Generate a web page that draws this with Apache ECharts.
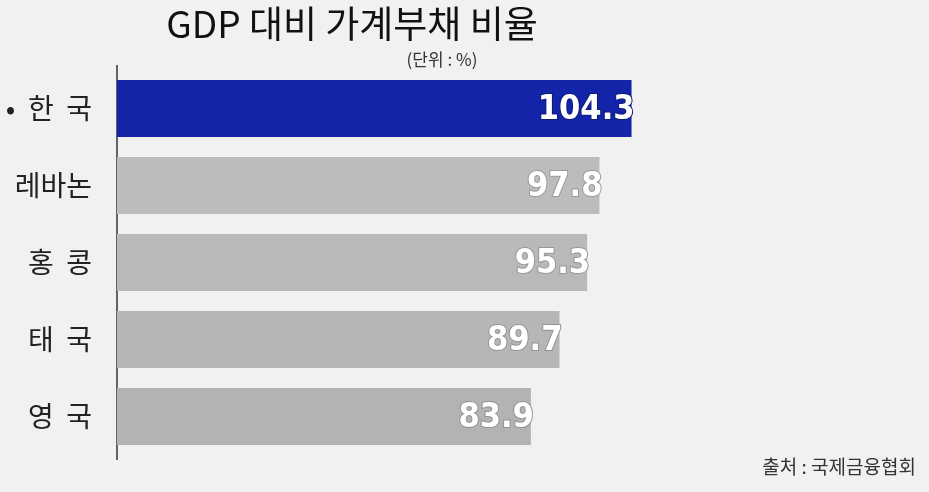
<!DOCTYPE html>
<html><head><meta charset="utf-8">
<script src="https://cdn.jsdelivr.net/npm/echarts@6/dist/echarts.min.js"></script>
<style>html,body{margin:0;padding:0;background:#f1f1f1;}#c{width:929px;height:492px;}</style>
</head><body><div id="c"></div>
<script>
const categories = ['•  한  국', '레바논', '홍  콩', '태  국', '영  국'];
const values = [104.3, 97.8, 95.3, 89.7, 83.9];
const barColors = ['#1424a8', '#bcbcbc', '#b9b9b9', '#b6b6b6', '#b3b3b3'];
const borderColors = ['#0d1a7a', '#9a9a9a', '#979797', '#949494', '#929292'];
const titleText = 'GDP 대비 가계부채 비율';
const unitText = '(단위 : %)';
const sourceText = '출처 : 국제금융협회';

const chart = echarts.init(document.getElementById('c'));
const font = '"Noto Sans CJK KR", "Noto Sans", sans-serif';
chart.setOption({
  backgroundColor: '#f1f1f1',
  animation: false,
  title: [
    {text: titleText, left: 347, top: 0, textAlign: 'center',
     textStyle: {fontFamily: font, fontSize: 37, fontWeight: 'normal', color: '#111'}},
    {text: unitText, left: 437, top: 46, textAlign: 'center',
     textStyle: {fontFamily: font, fontSize: 17, fontWeight: 'normal', color: '#333'}},
    {text: sourceText, right: 8, top: 452,
     textStyle: {fontFamily: font, fontSize: 19, fontWeight: 'normal', color: '#333'}}
  ],
  grid: {left: 117, top: 70, width: 592, height: 385},
  xAxis: {type: 'value', min: 0, max: 120, show: false},
  yAxis: {
    type: 'category', data: categories, inverse: true,
    axisLine: {show: false}, axisTick: {show: false},
    axisLabel: {margin: 25, fontFamily: font, fontSize: 28, color: '#222'}
  },
  graphic: [{type: 'line', shape: {x1: 117, y1: 65, x2: 117, y2: 460},
    style: {stroke: '#333', lineWidth: 1.5}}],
  series: [{
    type: 'bar', barWidth: 57,
    data: values.map((v, i) => ({
      value: v,
      itemStyle: {color: barColors[i]},
      label: {textBorderColor: borderColors[i]}
    })),
    label: {
      show: true, position: 'insideRight', offset: [8, 2],
      fontFamily: '"DejaVu Sans Condensed", "Liberation Sans Narrow", sans-serif',
      fontWeight: 'bold', fontSize: 34, color: '#fff', textBorderWidth: 2
    }
  }]
});
</script></body></html>
